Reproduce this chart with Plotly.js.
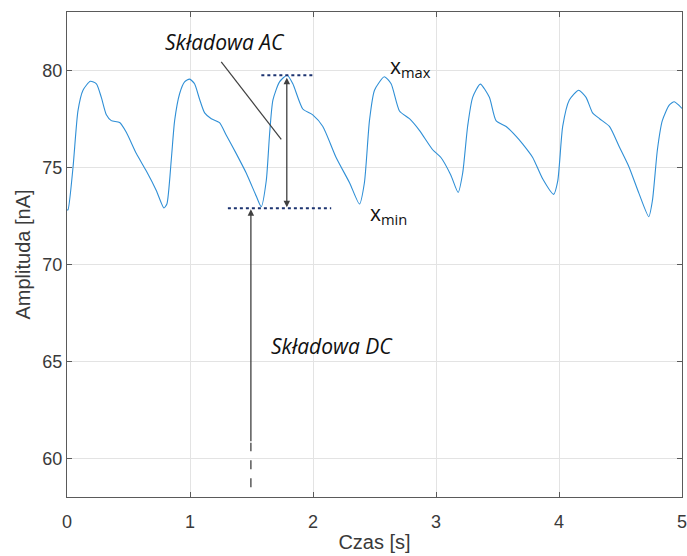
<!DOCTYPE html>
<html>
<head>
<meta charset="utf-8">
<script src="https://cdn.plot.ly/plotly-3.0.1.min.js"></script>
<style>html,body{margin:0;padding:0;background:#fff;}#chart{width:687px;height:556px;}</style>
</head>
<body>
<div id="chart"></div>
<script>
// Signal samples: time [s] and amplitude [nA]
const timeS = [0.0, 0.008, 0.049, 0.089, 0.13, 0.19, 0.239, 0.279, 0.32, 0.36, 0.428, 0.482, 0.564, 0.645, 0.726, 0.788, 0.812, 0.848, 0.875, 0.916, 0.956, 0.997, 1.037, 1.078, 1.119, 1.173, 1.24, 1.295, 1.376, 1.457, 1.539, 1.579, 1.62, 1.647, 1.674, 1.728, 1.79, 1.836, 1.917, 1.998, 2.08, 2.188, 2.297, 2.378, 2.418, 2.459, 2.5, 2.58, 2.635, 2.703, 2.784, 2.865, 2.973, 3.04, 3.12, 3.18, 3.217, 3.257, 3.298, 3.36, 3.434, 3.488, 3.57, 3.65, 3.704, 3.786, 3.867, 3.956, 3.99, 4.03, 4.084, 4.16, 4.22, 4.273, 4.33, 4.41, 4.49, 4.57, 4.65, 4.73, 4.76, 4.8, 4.84, 4.896, 4.937, 5.0];
const amplitude = [72.8, 72.8, 75.0, 77.9, 78.97, 79.43, 79.3, 78.6, 77.7, 77.4, 77.3, 76.8, 75.7, 74.8, 73.8, 72.9, 73.1, 75.4, 77.4, 78.8, 79.4, 79.54, 79.3, 78.5, 77.8, 77.5, 77.3, 76.65, 75.7, 74.7, 73.5, 72.96, 74.3, 76.7, 78.46, 79.4, 79.74, 79.3, 78.0, 77.7, 77.1, 75.5, 74.2, 73.1, 74.2, 77.4, 78.97, 79.66, 79.3, 77.9, 77.5, 76.9, 75.9, 75.5, 74.6, 73.7, 74.7, 77.1, 78.6, 79.28, 78.6, 77.4, 77.1, 76.6, 76.2, 75.5, 74.4, 73.6, 74.3, 77.1, 78.46, 78.97, 78.6, 77.8, 77.5, 77.1, 76.05, 75.0, 73.65, 72.45, 73.3, 75.9, 77.4, 78.2, 78.37, 78.03];

const xTicks = [0, 1, 2, 3, 4, 5];
const yTicks = [60, 65, 70, 75, 80];

// Annotation anchor values
const xMaxValue = 79.74;
const xMinValue = 72.88;
const acTime = 1.787;
const dcTime = 1.495;
const dcSolidFrom = 60.8;
const dcDashFrom = 58.5;

const trace = {
  x: timeS, y: amplitude, type: 'scatter', mode: 'lines',
  line: {color: '#2f8fd6', width: 1.1, shape: 'spline', smoothing: 0.6},
  hoverinfo: 'skip'
};

const axisCommon = {
  showline: true, linecolor: '#5a5a5a', linewidth: 1, mirror: 'allticks',
  ticks: 'inside', ticklen: 5, tickcolor: '#5a5a5a',
  showgrid: true, gridcolor: '#e3e3e3', gridwidth: 1, zeroline: false,
  ticklabeloverflow: 'allow',
  tickfont: {family: 'Liberation Sans, Arial, sans-serif', size: 18, color: '#3a3a3a'}
};
const titleFont = {family: 'Liberation Sans, Arial, sans-serif', size: 20, color: '#3a3a3a'};

const layout = {
  width: 687, height: 556,
  margin: {l: 67, r: 5, t: 12, b: 59},
  paper_bgcolor: '#fff', plot_bgcolor: '#fff',
  showlegend: false,
  xaxis: Object.assign({}, axisCommon, {
    range: [0, 5], tickvals: xTicks, ticktext: xTicks.map(String), ticklabelstandoff: 8,
    title: {text: 'Czas [s]', standoff: 4, font: titleFont}
  }),
  yaxis: Object.assign({}, axisCommon, {
    range: [58, 83], tickvals: yTicks, ticktext: yTicks.map(String), ticklabelstandoff: 0,
    title: {text: 'Amplituda [nA]', standoff: 6, font: titleFont}
  }),
  shapes: [
    {type: 'line', xref: 'x', yref: 'y', x0: 1.58, x1: 2.0, y0: xMaxValue, y1: xMaxValue,
     line: {color: '#1c3370', width: 2, dash: 'dot'}},
    {type: 'line', xref: 'x', yref: 'y', x0: 1.308, x1: 2.148, y0: xMinValue, y1: xMinValue,
     line: {color: '#1c3370', width: 2, dash: 'dot'}},
    {type: 'line', xref: 'x', yref: 'y', x0: 1.254, x1: 1.742, y0: 80.43, y1: 76.43,
     line: {color: '#404040', width: 1.2}},
    {type: 'line', xref: 'x', yref: 'y', x0: dcTime, x1: dcTime, y0: dcDashFrom, y1: dcSolidFrom,
     line: {color: '#404040', width: 1.3, dash: 'dash'}}
  ],
  annotations: [
    {xref: 'x', yref: 'y', axref: 'x', ayref: 'y', x: acTime, y: xMinValue + 0.05, ax: acTime, ay: xMaxValue - 0.05,
     text: '', showarrow: true, arrowhead: 2, arrowside: 'end+start', arrowsize: 1, arrowwidth: 1.3, arrowcolor: '#404040'},
    {xref: 'x', yref: 'y', axref: 'x', ayref: 'y', x: dcTime, y: xMinValue - 0.05, ax: dcTime, ay: dcSolidFrom,
     text: '', showarrow: true, arrowhead: 2, arrowsize: 1, arrowwidth: 1.3, arrowcolor: '#404040'},
    {xref: 'x', yref: 'y', x: 1.281, y: 81.44, text: 'Składowa AC', showarrow: false,
     font: {family: 'Open Sans, sans-serif', size: 21, color: '#111', style: 'italic'}},
    {xref: 'x', yref: 'y', x: 2.155, y: 65.8, text: 'Składowa DC', showarrow: false,
     font: {family: 'Open Sans, sans-serif', size: 21, color: '#111', style: 'italic'}},
    {xref: 'x', yref: 'y', x: 2.79, y: 80.15, text: 'x<sub>max</sub>', showarrow: false,
     font: {family: 'Open Sans, sans-serif', size: 21, color: '#111'}},
    {xref: 'x', yref: 'y', x: 2.61, y: 72.6, text: 'x<sub>min</sub>', showarrow: false,
     font: {family: 'Open Sans, sans-serif', size: 21, color: '#111'}}
  ]
};

Plotly.newPlot('chart', [trace], layout, {staticPlot: true, displayModeBar: false});
</script>
</body>
</html>
